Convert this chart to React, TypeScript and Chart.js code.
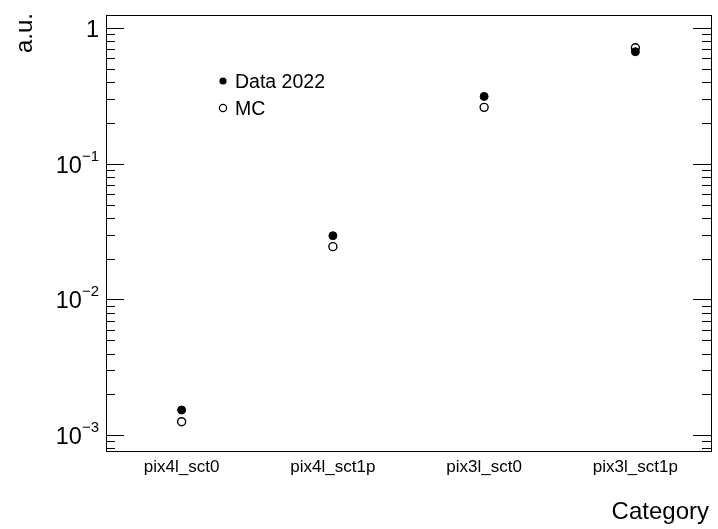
import React, { useEffect, useRef } from "react";
import { Chart, registerables } from "chart.js";

Chart.register(...registerables);

const categories = ["pix4l_sct0", "pix4l_sct1p", "pix3l_sct0", "pix3l_sct1p"];
const dataValues = [1.535e-3, 0.0295, 0.313, 0.668];
const mcValues = [1.259e-3, 0.0245, 0.260, 0.715];
const yMin = 7.66e-4;
const yMax = 1.245;
const majorTicks = [1e-3, 1e-2, 1e-1, 1];
const majorLabels = [
  { base: "10", exp: "\u22123" },
  { base: "10", exp: "\u22122" },
  { base: "10", exp: "\u22121" },
  { base: "1", exp: "" },
];
const legendLabels = ["Data 2022", "MC"];
const xTitle = "Category";
const yTitle = "a.u.";

const FONT = "'Liberation Sans', Arial, Helvetica, sans-serif";

const framePlugin = {
  id: "rootFrame",
  afterDraw(chart: any) {
    const { ctx, chartArea } = chart;
    const { left, right, top, bottom } = chartArea;
    const xs = chart.scales.x;
    const ys = chart.scales.y;
    ctx.save();

    // frame
    ctx.strokeStyle = "#000";
    ctx.lineWidth = 1;
    ctx.strokeRect(left + 0.5, top + 0.5, right - left, bottom - top);

    // log ticks on both vertical sides
    const lo = Math.floor(Math.log10(yMin));
    const hi = Math.ceil(Math.log10(yMax));
    for (let e = lo; e <= hi; e++) {
      for (let m = 1; m <= 9; m++) {
        const v = m * Math.pow(10, e);
        if (v < yMin || v > yMax) continue;
        const y = Math.round(ys.getPixelForValue(v)) + 0.5;
        const len = m === 1 ? 18 : 9;
        ctx.beginPath();
        ctx.moveTo(left, y);
        ctx.lineTo(left + len, y);
        ctx.moveTo(right, y);
        ctx.lineTo(right - len, y);
        ctx.stroke();
      }
    }

    // y tick labels with superscripts
    ctx.fillStyle = "#000";
    ctx.textBaseline = "alphabetic";
    majorTicks.forEach((v, i) => {
      const y = ys.getPixelForValue(v);
      const lab = majorLabels[i];
      const rightEdge = left - 7;
      if (lab.exp) {
        ctx.font = `15px ${FONT}`;
        const ew = ctx.measureText(lab.exp).width;
        ctx.textAlign = "right";
        ctx.fillText(lab.exp, rightEdge, y - 3);
        ctx.font = `23.5px ${FONT}`;
        ctx.fillText(lab.base, rightEdge - ew, y + 9);
      } else {
        ctx.font = `23.5px ${FONT}`;
        ctx.textAlign = "right";
        ctx.fillText(lab.base, rightEdge, y + 9);
      }
    });

    // category labels
    ctx.font = `17px ${FONT}`;
    ctx.textAlign = "center";
    categories.forEach((c, i) => {
      ctx.fillText(c, xs.getPixelForValue(i), bottom + 21);
    });

    // axis titles
    ctx.font = `24px ${FONT}`;
    ctx.textAlign = "right";
    ctx.fillText(xTitle, right - 2, 519);
    ctx.save();
    ctx.translate(32, 13);
    ctx.rotate(-Math.PI / 2);
    ctx.textAlign = "right";
    ctx.fillText(yTitle, 0, 0);
    ctx.restore();

    // legend
    const lx = 223;
    const rows = [81, 108];
    rows.forEach((ly, i) => {
      ctx.beginPath();
      ctx.arc(lx, ly, 3.6, 0, Math.PI * 2);
      if (i === 0) {
        ctx.fillStyle = "#000";
        ctx.fill();
      } else {
        ctx.fillStyle = "#fff";
        ctx.fill();
        ctx.lineWidth = 1.2;
        ctx.strokeStyle = "#000";
        ctx.stroke();
      }
      ctx.fillStyle = "#000";
      ctx.font = `19.5px ${FONT}`;
      ctx.textAlign = "left";
      ctx.fillText(legendLabels[i], 235, ly + 7);
    });

    ctx.restore();
  },
};

export default function App() {
  const ref = useRef<HTMLCanvasElement | null>(null);
  useEffect(() => {
    document.body.style.margin = "0";
    document.body.style.background = "#fff";
    const canvas = ref.current!;
    const chart = new Chart(canvas, {
      type: "line",
      data: {
        labels: categories,
        datasets: [
          {
            label: legendLabels[0],
            data: dataValues,
            showLine: false,
            pointStyle: "circle",
            pointRadius: 4,
            pointBackgroundColor: "#000",
            pointBorderColor: "#000",
            pointBorderWidth: 1,
            order: 0,
          },
          {
            label: legendLabels[1],
            data: mcValues,
            showLine: false,
            pointStyle: "circle",
            pointRadius: 4,
            pointBackgroundColor: "#fff",
            pointBorderColor: "#000",
            pointBorderWidth: 1.4,
            order: 1,
          },
        ],
      },
      options: {
        responsive: false,
        animation: false,
        devicePixelRatio: 1,
        layout: { padding: { left: 106, top: 15, right: 7, bottom: 78 } },
        plugins: { legend: { display: false }, tooltip: { enabled: false } },
        scales: {
          x: { type: "category", offset: true, display: false },
          y: { type: "logarithmic", min: yMin, max: yMax, display: false },
        },
      },
      plugins: [framePlugin],
    });
    return () => chart.destroy();
  }, []);
  return (
    <div style={{ width: 718, height: 529, background: "#fff" }}>
      <canvas ref={ref} width={718} height={529} style={{ display: "block" }} />
    </div>
  );
}
